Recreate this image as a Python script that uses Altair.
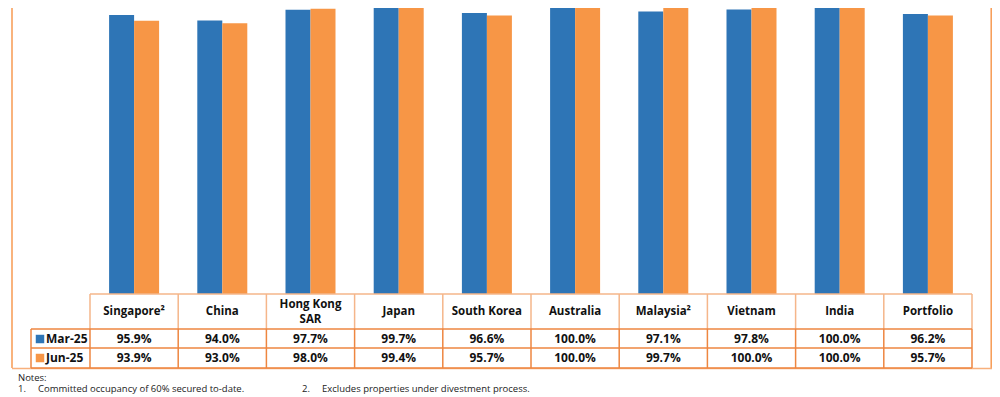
import altair as alt
import pandas as pd

# ---- data ----
categories = ["Singapore²", "China", "Hong Kong SAR", "Japan", "South Korea",
              "Australia", "Malaysia²", "Vietnam", "India", "Portfolio"]
header_labels = ["Singapore²", "China", "Hong Kong\nSAR", "Japan", "South Korea",
                 "Australia", "Malaysia²", "Vietnam", "India", "Portfolio"]
header_lines = [1, 1, 2, 1, 1, 1, 1, 1, 1, 1]
series = ["Mar-25", "Jun-25"]
mar25 = [95.9, 94.0, 97.7, 99.7, 96.6, 100.0, 97.1, 97.8, 100.0, 96.2]
jun25 = [93.9, 93.0, 98.0, 99.4, 95.7, 100.0, 99.7, 100.0, 100.0, 95.7]
notes_title = "Notes:"
note_nums = ["1.", "2."]
note_texts = ["Committed occupancy of 60% secured to-date.",
              "Excludes properties under divestment process."]

BLUE = "#2E75B6"
ORANGE = "#F79646"
FRAME = "#F79A52"
DARK_LINE = "#EE8640"
LIGHT_LINE = "#F5B68A"
FONT = "Open Sans"

bars_df = pd.DataFrame(
    [{"cat": c, "series": "Mar-25", "value": v} for c, v in zip(categories, mar25)] +
    [{"cat": c, "series": "Jun-25", "value": v} for c, v in zip(categories, jun25)]
)
table_df = pd.DataFrame({
    "cat": categories,
    "header": header_labels,
    "lines": header_lines,
    "mar_txt": [f"{v:.1f}%" for v in mar25],
    "jun_txt": [f"{v:.1f}%" for v in jun25],
})
legend_df = pd.DataFrame({"series": series, "row": [0, 1]})
bound_df = pd.DataFrame({"cat": categories})
last_df = pd.DataFrame({"cat": categories[-1:]})
one_df = pd.DataFrame({"k": [0]})

x_scale = alt.Scale(domain=categories, range=[82, 964], paddingInner=0, paddingOuter=0)
color_scale = alt.Scale(domain=series, range=[BLUE, ORANGE])
X = lambda **kw: alt.X("cat:N", scale=x_scale, axis=None, **kw)

bars = alt.Chart(bars_df).mark_bar().encode(
    x=X(),
    xOffset=alt.XOffset("series:N", scale=alt.Scale(domain=series, paddingOuter=0.764, paddingInner=0)),
    y=alt.Y("value:Q", scale=alt.Scale(domain=[0, 100], range=[286, -5]), axis=None),
    color=alt.Color("series:N", scale=color_scale, legend=None),
)

def rule(color, **enc):
    return alt.Chart(one_df).mark_rule(color=color, strokeWidth=1.5).encode(**enc)

# frame
frame_left = rule(FRAME, x=alt.value(4), y=alt.value(0), y2=alt.value(360))
frame_right = rule(FRAME, x=alt.value(983.2), y=alt.value(0), y2=alt.value(360))
frame_bottom = rule("#F8B07C", x=alt.value(4), x2=alt.value(984), y=alt.value(360.5))

# table vertical lines
v_header = alt.Chart(bound_df).mark_rule(color=LIGHT_LINE, strokeWidth=1.5).encode(
    x=X(bandPosition=0), y=alt.value(286), y2=alt.value(321))
v_header_end = alt.Chart(last_df).mark_rule(color=LIGHT_LINE, strokeWidth=1.5).encode(
    x=X(bandPosition=1), y=alt.value(286), y2=alt.value(321))
v_data = alt.Chart(bound_df).mark_rule(color=DARK_LINE, strokeWidth=1.5).encode(
    x=X(bandPosition=0), y=alt.value(321), y2=alt.value(360))
v_data_end = alt.Chart(last_df).mark_rule(color=DARK_LINE, strokeWidth=1.5).encode(
    x=X(bandPosition=1), y=alt.value(321), y2=alt.value(360))
v_legend = rule(DARK_LINE, x=alt.value(23), y=alt.value(321), y2=alt.value(360))

# table horizontal lines
h_top = rule(LIGHT_LINE, x=alt.value(82), x2=alt.value(964), y=alt.value(286))
h_lines = [rule(DARK_LINE, x=alt.value(23), x2=alt.value(964), y=alt.value(yy))
           for yy in (321, 340, 360)]

# table text
TXT = dict(font=FONT, fontWeight="bold", color="#111", baseline="middle")
hdr1 = alt.Chart(table_df).transform_filter("datum.lines == 1").mark_text(
    fontSize=11.5, **TXT).encode(x=X(), y=alt.value(304), text="header:N")
hdr2 = alt.Chart(table_df).transform_filter("datum.lines == 2").mark_text(
    fontSize=11.5, lineBreak="\n", lineHeight=15, **TXT).encode(
    x=X(), y=alt.value(297), text="header:N")
row1 = alt.Chart(table_df).mark_text(fontSize=12, **TXT).encode(
    x=X(), y=alt.value(331), text="mar_txt:N")
row2 = alt.Chart(table_df).mark_text(fontSize=12, **TXT).encode(
    x=X(), y=alt.value(350), text="jun_txt:N")

# legend column
row_y = alt.Y("row:Q", scale=alt.Scale(domain=[0, 1], range=[331, 350]), axis=None)
leg_sq = alt.Chart(legend_df).mark_square(size=72, opacity=1).encode(
    x=alt.value(32), y=row_y,
    color=alt.Color("series:N", scale=color_scale, legend=None),
)
leg_txt = alt.Chart(legend_df).mark_text(fontSize=12, align="left", **TXT).encode(
    x=alt.value(38), y=row_y, text="series:N")

# notes
NOTE = dict(font=FONT, fontSize=9.5, color="#222", align="left", baseline="middle")
notes_df = pd.DataFrame({"t": [notes_title]})
n_title = alt.Chart(notes_df).mark_text(**NOTE).encode(
    x=alt.value(10), y=alt.value(370), text="t:N")
nums_df = pd.DataFrame({"num": note_nums, "txt": note_texts, "i": [0, 1]})
n_nums = alt.Chart(nums_df).mark_text(**NOTE).encode(
    x=alt.X("i:Q", scale=alt.Scale(domain=[0, 1], range=[10, 294]), axis=None),
    y=alt.value(381), text="num:N")
n_txts = alt.Chart(nums_df).mark_text(**NOTE).encode(
    x=alt.X("i:Q", scale=alt.Scale(domain=[0, 1], range=[30, 314]), axis=None),
    y=alt.value(381), text="txt:N")

chart = alt.layer(
    bars, frame_left, frame_right, frame_bottom,
    v_header, v_header_end, h_top,
    *h_lines, v_data, v_data_end, v_legend,
    hdr1, hdr2, row1, row2, leg_sq, leg_txt,
    n_title, n_nums, n_txts,
).resolve_scale(y="independent", x="independent").properties(
    width=984, height=386, padding=0,
    autosize=alt.AutoSizeParams(type="none"),
).configure_view(stroke=None)

chart.save("out.html", embed_options={"renderer": "svg", "actions": False})
